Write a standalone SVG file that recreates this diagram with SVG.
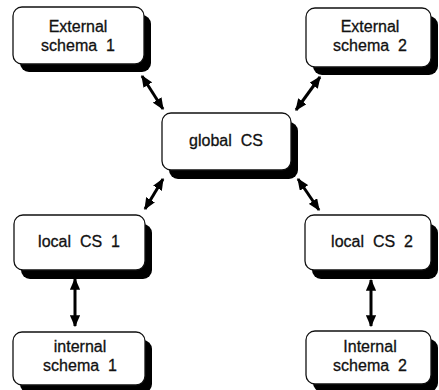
<svg xmlns="http://www.w3.org/2000/svg" width="439" height="390" viewBox="0 0 439 390">
<defs>
<style>
.shadow{fill:#000}
.box{fill:#fff;stroke:#111;stroke-width:1.3}
.t{font-family:"Liberation Sans",Arial,sans-serif;font-size:16px;fill:#111;stroke:#111;stroke-width:0.3;text-anchor:middle}
.conn{stroke:#000;stroke-width:3;fill:none;marker-start:url(#ah);marker-end:url(#ah)}
</style>
<marker id="ah" viewBox="0 0 10 10" refX="9" refY="5" markerWidth="4" markerHeight="3.4" orient="auto-start-reverse" markerUnits="strokeWidth" preserveAspectRatio="none">
<path d="M0,0 L10,5 L0,10 Z" fill="#000"/>
</marker>
</defs>
<rect width="439" height="390" fill="#fff"/>
<g id="connectors">
<line class="conn" x1="142" y1="76" x2="163" y2="109"/>
<line class="conn" x1="320" y1="77" x2="296" y2="110"/>
<line class="conn" x1="163" y1="179" x2="145" y2="209"/>
<line class="conn" x1="298" y1="179" x2="319" y2="210"/>
<line class="conn" x1="75" y1="279" x2="75" y2="326"/>
<line class="conn" x1="371" y1="280" x2="371" y2="326"/>
</g>
<g id="ext1">
<rect class="shadow" x="20" y="15" width="131" height="57" rx="9"/>
<rect class="box" x="13" y="7" width="131" height="57" rx="9"/>
<text class="t" x="78" y="32" xml:space="preserve">External</text>
<text class="t" x="78" y="51" xml:space="preserve">schema  1</text>
</g>
<g id="ext2">
<rect class="shadow" x="313" y="16" width="125" height="59" rx="9"/>
<rect class="box" x="306" y="8" width="125" height="59" rx="9"/>
<text class="t" x="370" y="32" xml:space="preserve">External</text>
<text class="t" x="370" y="51" xml:space="preserve">schema  2</text>
</g>
<g id="global">
<rect class="shadow" x="169" y="122" width="129" height="57" rx="9"/>
<rect class="box" x="162" y="113" width="129" height="57" rx="9"/>
<text class="t" x="226" y="146" xml:space="preserve">global  CS</text>
</g>
<g id="local1">
<rect class="shadow" x="21" y="224" width="131" height="55" rx="9"/>
<rect class="box" x="14" y="215" width="131" height="55" rx="9"/>
<text class="t" x="79" y="247" xml:space="preserve">local  CS  1</text>
</g>
<g id="local2">
<rect class="shadow" x="312" y="224" width="126" height="55" rx="9"/>
<rect class="box" x="305" y="215" width="126" height="55" rx="9"/>
<text class="t" x="372" y="247" xml:space="preserve">local  CS  2</text>
</g>
<g id="int1">
<rect class="shadow" x="20" y="340" width="132" height="53" rx="9"/>
<rect class="box" x="13" y="332" width="132" height="53" rx="9"/>
<text class="t" x="80" y="352" xml:space="preserve">internal</text>
<text class="t" x="80" y="371" xml:space="preserve">schema  1</text>
</g>
<g id="int2">
<rect class="shadow" x="313" y="339" width="125" height="53" rx="9"/>
<rect class="box" x="306" y="331" width="125" height="53" rx="9"/>
<text class="t" x="370" y="352" xml:space="preserve">Internal</text>
<text class="t" x="370" y="371" xml:space="preserve">schema  2</text>
</g>
</svg>
